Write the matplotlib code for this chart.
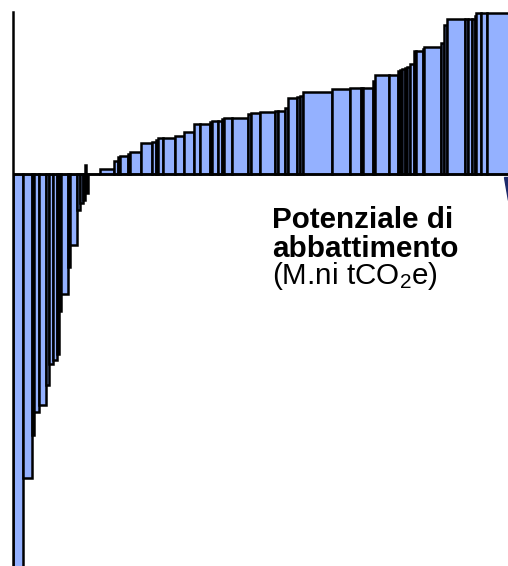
import matplotlib.pyplot as plt
import numpy as np
from matplotlib.patches import Polygon

# Curva dei costi di abbattimento: larghezza = potenziale, altezza = costo
potenziale = [10, 9, 1.5, 5.5, 7, 2.5, 4.5, 4, 2, 2, 7, 2, 7, 3, 3, 1.5, 1, 2.5,
              12,
              14, 4, 2, 8, 2, 11, 11, 4, 2, 5, 12, 9, 10, 6, 10, 2, 6, 4, 2, 8,
              16, 3, 9, 15, 3, 7, 3, 9, 3, 3, 29, 18, 11, 2, 10, 2, 14, 9, 2,
              2.3, 2.3, 2.4, 3, 4, 2, 7, 1, 17, 3, 3, 18, 3, 4, 3, 1, 5, 6, 30]
costo = [-400, -304, -261, -238, -231, -211, -190, -186, -180, -137, -120, -93,
         -71, -36, -29, -26, 9, -19,
         0,
         4.5, 13, 17, 18, 20, 22, 31, 32, 34, 36, 36, 38, 42, 50, 50, 52, 53,
         53, 55, 56, 56, 60, 61, 62, 62.5, 63, 66, 76, 77, 78, 82, 85, 86, 86,
         86, 93, 99, 99, 103, 104, 105, 106, 107, 110, 123, 123, 125, 127,
         131, 149, 155, 155, 155, 155, 158, 161, 161, 161]

plt.rcParams['font.family'] = ['Liberation Sans', 'DejaVu Sans']
plt.rcParams['mathtext.fontset'] = 'custom'
plt.rcParams['mathtext.rm'] = 'Liberation Sans'
plt.rcParams['mathtext.it'] = 'Liberation Sans'

fig = plt.figure(figsize=(5.08, 5.66), dpi=100)
ax = fig.add_axes([13 / 508, 0, 495 / 508, 554 / 566])

lefts = np.concatenate([[0], np.cumsum(potenziale)[:-1]])
ax.bar(lefts, costo, width=potenziale, align='edge', color='#94B1FF',
       edgecolor='black', linewidth=1.8)

ax.axhline(0, color='black', linewidth=1.8, zorder=3)
ax.set_xlim(0, 495)
ax.set_ylim(-392, 162)

for side in ['top', 'right', 'bottom']:
    ax.spines[side].set_visible(False)
ax.spines['left'].set_linewidth(1.8)
ax.set_xticks([])
ax.set_yticks([])

# piccolo cuneo scuro al bordo destro
ax.add_patch(Polygon([[0.992, 0.702], [1.0, 0.702], [1.0, 0.66]],
                     closed=True, transform=ax.transAxes, color='#1C2A6B',
                     clip_on=False, zorder=4))

H = 566
fig.text(272 / 508, 1 - 228 / H, 'Potenziale di', fontsize=21.3,
         fontweight='bold', va='baseline')
fig.text(272 / 508, 1 - 257 / H, 'abbattimento', fontsize=21.3,
         fontweight='bold', va='baseline')
fig.text(272 / 508, 1 - 284 / H, r'(M.ni tCO$_2$e)', fontsize=21.3,
         va='baseline')

plt.savefig('out.png', dpi=100)
